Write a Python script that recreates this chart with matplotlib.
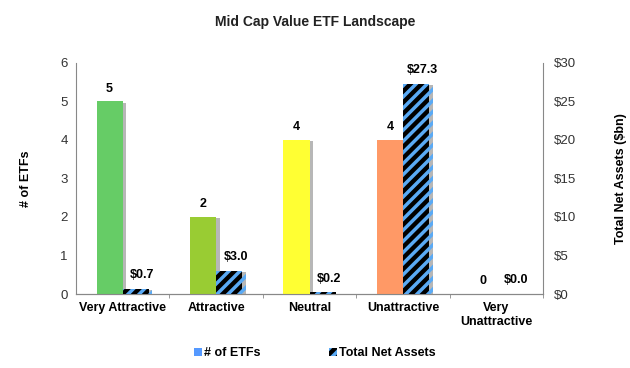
import matplotlib
matplotlib.use("Agg")
import matplotlib.pyplot as plt
import matplotlib.patheffects as pe
from matplotlib.patches import Patch
import numpy as np

plt.rcParams['font.family'] = ['Liberation Sans', 'DejaVu Sans']
plt.rcParams['hatch.linewidth'] = 2.5

categories = ["Very Attractive", "Attractive", "Neutral", "Unattractive", "Very\nUnattractive"]
num_etfs = [5, 2, 4, 4, 0]
net_assets = [0.7, 3.0, 0.2, 27.3, 0.0]
bar_colors = ["#66CC66", "#99CC33", "#FFFF33", "#FF9966", "#FF3333"]
etf_labels = ["5", "2", "4", "4", "0"]
asset_labels = ["$0.7", "$3.0", "$0.2", "$27.3", "$0.0"]

fig = plt.figure(figsize=(6.3, 3.68), dpi=100)
ax = fig.add_axes([0.1206, 0.201, 0.7414, 0.628])
ax2 = ax.twinx()

x = np.arange(len(categories))
w = 0.28
shadow = [pe.SimplePatchShadow(offset=(2.5, -1), shadow_rgbFace='#888888', alpha=0.6), pe.Normal()]

b1 = ax.bar(x - w/2, num_etfs, width=w, color=bar_colors, edgecolor='none', zorder=3)
for b in b1:
    b.set_path_effects(shadow)
b2 = ax2.bar(x + w/2, net_assets, width=w, color='black', edgecolor='#5AAAF5',
             hatch='///', linewidth=0, zorder=3)
for b in b2:
    b.set_path_effects(shadow)

ax.set_ylim(0, 6)
ax2.set_ylim(0, 30)
ax.set_xlim(-0.5, 4.5)
ax.set_yticks(range(0, 7))
ax2.set_yticks(range(0, 31, 5))
ax2.set_yticklabels([f"${v}" for v in range(0, 31, 5)])

for i in range(len(categories)):
    ax.text(x[i] - w/2, num_etfs[i] + 0.17, etf_labels[i], ha='center', va='bottom',
            fontsize=9, fontweight='bold')
    ax2.text(x[i] + w/2 + 0.07, max(net_assets[i], 0) + 1.0 if i != 4 else 1.0,
             asset_labels[i], ha='center', va='bottom', fontsize=9, fontweight='bold')

ax.set_xticks(x)
ax.set_xticklabels(categories, fontsize=9, fontweight='bold')
ax.tick_params(axis='x', length=0, pad=6)
ax.set_xticks(np.arange(-0.5, 5.0, 1.0)[1:], minor=True)
ax.tick_params(axis='x', which='minor', length=3, color='#888888')

for a in (ax, ax2):
    a.spines['top'].set_visible(False)
    a.spines['left'].set_color('#888888')
    a.spines['right'].set_color('#888888')
    a.spines['bottom'].set_color('#888888')
    a.tick_params(axis='y', length=0, labelsize=9.5, labelcolor='#333333')
ax.spines['right'].set_visible(False)
ax2.spines['left'].set_visible(False)
ax.tick_params(axis='y', pad=6)
ax2.tick_params(axis='y', pad=8)

ax.set_ylabel("# of ETFs", fontsize=9, fontweight='bold', labelpad=20)
ax2.set_ylabel("Total Net Assets ($bn)", fontsize=9, fontweight='bold', labelpad=28)

fig.text(0.5, 0.94, "Mid Cap Value ETF Landscape", ha='center', va='center',
         fontsize=10, fontweight='bold', color='#222222')

handles = [Patch(facecolor='#5599FF', edgecolor='none'),
           Patch(facecolor='black', edgecolor='#5AAAF5', hatch='///', linewidth=0)]
fig.legend(handles, ["# of ETFs", "Total Net Assets"], loc='center', bbox_to_anchor=(0.5, 0.04),
           ncol=2, frameon=False, prop={'weight': 'bold', 'size': 9},
           handlelength=0.6, handleheight=0.6, handletextpad=0.2, columnspacing=5.5)

fig.savefig("out.png", dpi=100)
